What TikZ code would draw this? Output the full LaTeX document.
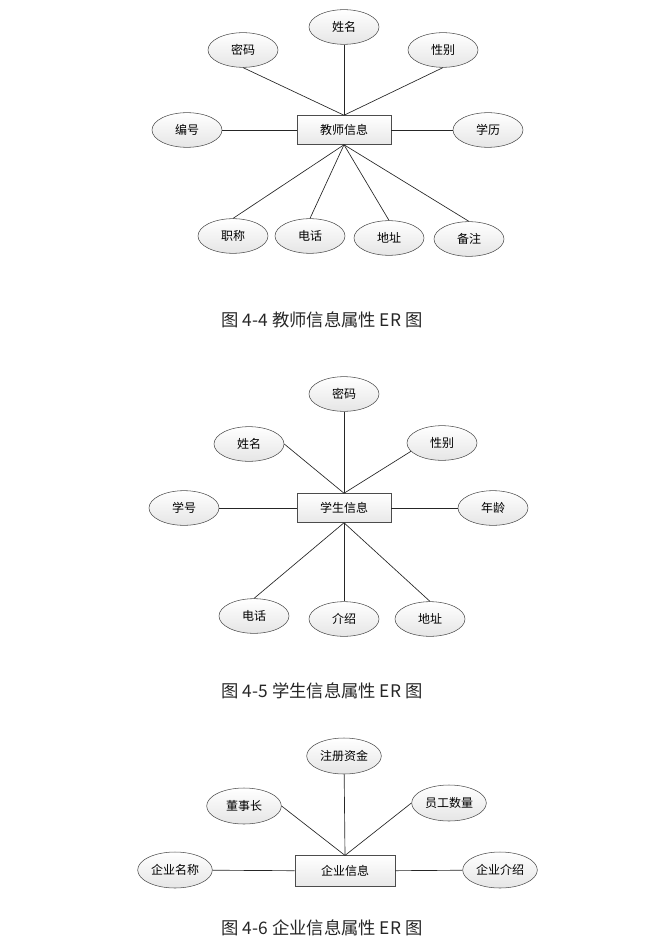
\documentclass[tikz,border=0pt]{standalone}
\usepackage{fontspec}
\newfontfamily\cjk{Noto Sans CJK SC}
\usepackage{tikz}
\usetikzlibrary{positioning}
\usetikzlibrary{shapes.geometric, positioning}

\begin{document}
\begin{tikzpicture}[
				x=0.75pt, y=-0.75pt,
				font=\cjk\fontsize{9}{11}\selectfont,
				attr/.style={
					draw=gray!60!black,
					ellipse,
					minimum width=52.5pt,
					minimum height=26pt,
					inner sep=0pt,
					top color=white,
					bottom color=gray!20
				},
				bigattr/.style={
					attr,
					minimum width=56pt,
					minimum height=27pt
				},
				entity/.style={
					draw=gray!60!black,
					rectangle,
					minimum width=70.5pt,
					minimum height=21.75pt,
					inner sep=0pt,
					top color=white,
					bottom color=gray!18
				},
				link/.style={draw=gray!30!black, line width=0.5pt},
				caption/.style={font=\cjk\fontsize{13}{15}\selectfont, text=black!85}
				]
				\useasboundingbox (0,0) rectangle (663,941);
				
				%教师信息
				\node[entity] (teacher) at (344,130) {教师信息};
				
				\node[attr] (t-name) at (344,27) {姓名};
				\node[attr] (t-pwd) at (243,50) {密码};
				\node[attr] (t-sex) at (443,50) {性别};
				\node[attr] (t-id) at (187,130) {编号};
				\node[attr] (t-edu) at (488,130) {学历};
				\node[attr] (t-title) at (233,236) {职称};
				\node[attr] (t-tel) at (310,236) {电话};
				\node[attr] (t-addr) at (389,238) {地址};
				\node[attr] (t-note) at (469,239) {备注};
				
				\draw[link] (t-name) -- (teacher.north);
				\draw[link] (t-pwd.south) -- (teacher.north);
				\draw[link] (t-sex.south) -- (teacher.north);
				\draw[link] (t-id) -- (teacher);
				\draw[link] (teacher) -- (t-edu);
				\draw[link] (teacher.south) -- (t-title.north);
				\draw[link] (teacher.south) -- (t-tel.north);
				\draw[link] (teacher.south) -- (t-addr.north);
				\draw[link] (teacher.south) -- (t-note.north);
				
				\node[caption] (cap-teacher) at (322,320) {图 4-4 教师信息属性 ER 图};
				
				% 学生信息
				\node[entity] (student) at (344,508) {学生信息};
				
				\node[attr] (s-pwd) at (344,394) {密码};
				\node[attr] (s-name) at (249,444) {姓名};
				\node[attr] (s-sex) at (442,443) {性别};
				\node[attr] (s-id) at (184,508) {学号};
				\node[attr] (s-age) at (493,508) {年龄};
				\node[attr] (s-tel) at (254,616) {电话};
				\node[attr] (s-intro) at (344,619) {介绍};
				\node[attr] (s-addr) at (430,619) {地址};
				
				\draw[link] (s-pwd) -- (student.north);
				\draw[link] (s-name.east) -- (student.north);
				\draw[link] (s-sex.195) -- (student.north);
				\draw[link] (s-id) -- (student);
				\draw[link] (student) -- (s-age);
				\draw[link] (student.south) -- (s-tel.north);
				\draw[link] (student.south) -- (s-intro.north);
				\draw[link] (student.south) -- (s-addr.north);
				
				\node[caption] (cap-student) at (322,691) {图 4-5 学生信息属性 ER 图};
				
				% 企业信息
				\node[entity, minimum width=75pt, minimum height=23pt] (company) at (345,871) {企业信息};
				
				\node[bigattr] (c-fund) at (344,756) {注册资金};
				\node[bigattr] (c-boss) at (244,806) {董事长};
				\node[bigattr] (c-staff) at (449,803) {员工数量};
				\node[bigattr] (c-name) at (175,870) {企业名称};
				\node[bigattr] (c-intro) at (500,870) {企业介绍};
				
				\draw[link] (c-fund) -- (company.north);
				\draw[link] (c-boss.east) -- (company.north);
				\draw[link] (c-staff.west) -- (company.north);
				\draw[link] (c-name) -- (company);
				\draw[link] (company) -- (c-intro);
				
				\node[caption] (cap-company) at (322,928) {图 4-6 企业信息属性 ER 图};
				
			\end{tikzpicture}
\end{document}
